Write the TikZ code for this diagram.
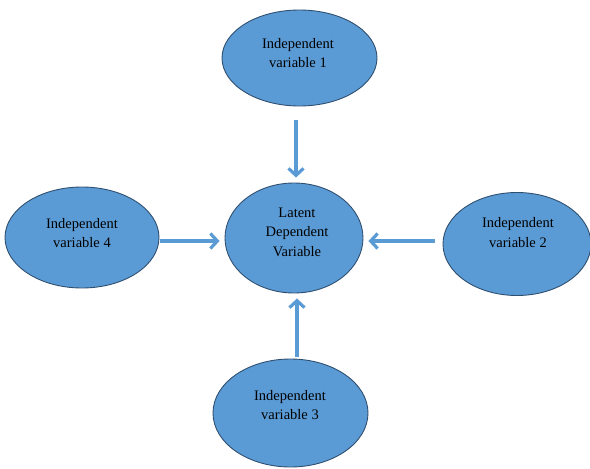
\documentclass[tikz,border=0pt]{standalone}
\usepackage{fontspec}
\setmainfont{Liberation Serif}
\usetikzlibrary{shapes.geometric,arrows.meta,calc}
\definecolor{fillblue}{HTML}{5B9BD5}
\definecolor{edgeblue}{HTML}{2F4F70}
\definecolor{arrblue}{HTML}{5B9BD5}
\begin{document}
\begin{tikzpicture}[x=1pt,y=-1pt,
  ell/.style={ellipse, draw=edgeblue, line width=0.9pt, fill=fillblue, inner sep=0pt},
  lbl/.style={align=center, font=\fontsize{14.5}{19.5}\selectfont, inner sep=0pt},
  arr/.style={draw=arrblue, line width=3.2pt, -{Straight Barb[length=7pt,width=15pt,line width=3.2pt]}}]
\useasboundingbox (0,0) rectangle (590,469);
\node[ell, minimum width=155pt, minimum height=96pt] (t) at (299.5,58) {};
\node[ell, minimum width=138pt, minimum height=110pt] (c) at (294,238) {};
\node[ell, minimum width=154pt, minimum height=101pt] (l) at (82,237.5) {};
\node[ell, minimum width=148pt, minimum height=103pt] (r) at (517,244) {};
\node[ell, minimum width=155pt, minimum height=108pt] (b) at (290.5,413) {};
\node[lbl] (tl) at (298,53) {Independent\\variable 1};
\node[lbl] (cl) at (297,232) {Latent\\Dependent\\Variable};
\node[lbl] (ll) at (82,233) {Independent\\variable 4};
\node[lbl] (rl) at (518,232.5) {Independent\\variable 2};
\node[lbl] (bl) at (290,405) {Independent\\variable 3};
\draw[arr, shorten <=14pt, shorten >=5pt] ([xshift=2pt]c.north |- t.south) -- ([xshift=2pt]c.north);
\draw[arr, shorten <=1pt, shorten >=5pt] (l.east |- 0,241) -- (c.west |- 0,241);
\draw[arr, shorten >=5pt] ([xshift=-8pt]r.west |- 0,241) -- (c.east |- 0,241);
\draw[arr, shorten <=2pt, shorten >=5pt] ([xshift=3pt]c.south |- b.north) -- ([xshift=3pt]c.south);
\end{tikzpicture}
\end{document}
